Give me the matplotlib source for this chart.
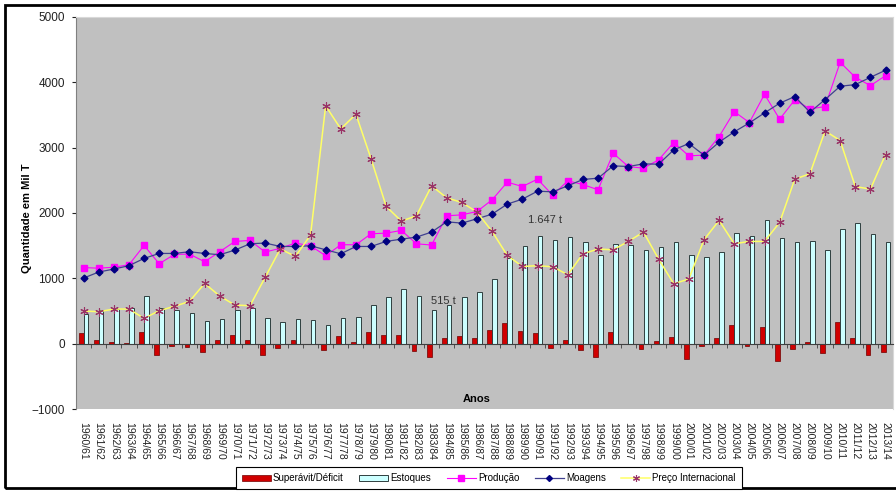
import numpy as np
import matplotlib
matplotlib.use('Agg')
import matplotlib.pyplot as plt
from matplotlib.patches import Rectangle, Patch
from matplotlib.lines import Line2D

plt.rcParams['font.family'] = ['Liberation Sans', 'DejaVu Sans']

safras = ['1960/61', '1961/62', '1962/63', '1963/64', '1964/65', '1965/66', '1966/67',
          '1967/68', '1968/69', '1969/70', '1970/71', '1971/72', '1972/73', '1973/74',
          '1974/75', '1975/76', '1976/77', '1977/78', '1978/79', '1979/80', '1980/81',
          '1981/82', '1982/83', '1983/84', '1984/85', '1985/86', '1986/87', '1987/88',
          '1988/89', '1989/90', '1990/91', '1991/92', '1992/93', '1993/94', '1994/95',
          '1995/96', '1996/97', '1997/98', '1998/99', '1999/00', '2000/01', '2001/02',
          '2002/03', '2003/04', '2004/05', '2005/06', '2006/07', '2007/08', '2008/09',
          '2009/10', '2010/11', '2011/12', '2012/13', '2013/14']

superavit = [168, 51, 26, 10, 183, -178, -41, -56, -133, 61, 133, 51, -168, -66,
             51, -10, -102, 122, 20, 179, 133, 133, -107, -204, 87, 117, 87, 209,
             321, 194, 163, -66, 56, -92, -204, 179, -10, -82, 46, 97, -229, -31,
             87, 290, -31, 255, -265, -77, 31, -143, 331, 92, -173, -122]

estoques = [459, 509, 530, 540, 723, 545, 520, 469, 341, 382, 509, 545, 393, 332,
            382, 367, 280, 393, 413, 586, 708, 836, 723, 515, 586, 708, 791, 994,
            1310, 1488, 1647, 1585, 1636, 1555, 1356, 1524, 1503, 1432, 1478, 1560,
            1350, 1325, 1401, 1692, 1647, 1891, 1616, 1549, 1565, 1427, 1754, 1845,
            1671, 1555]

producao = [1165, 1155, 1170, 1208, 1503, 1223, 1366, 1371, 1254, 1407, 1565, 1580,
            1402, 1460, 1540, 1498, 1346, 1514, 1514, 1682, 1692, 1733, 1529, 1509,
            1957, 1972, 2023, 2202, 2472, 2405, 2518, 2273, 2492, 2436, 2355, 2915,
            2711, 2686, 2813, 3078, 2875, 2885, 3170, 3552, 3384, 3817, 3436, 3731,
            3593, 3629, 4307, 4077, 3950, 4102]

moagens = [1004, 1096, 1142, 1193, 1305, 1381, 1381, 1407, 1381, 1361, 1432, 1529,
           1540, 1488, 1488, 1498, 1437, 1376, 1488, 1488, 1565, 1600, 1631, 1708,
           1865, 1845, 1911, 1983, 2136, 2212, 2334, 2324, 2416, 2513, 2533, 2722,
           2711, 2752, 2747, 2966, 3063, 2885, 3084, 3242, 3379, 3532, 3680, 3782,
           3543, 3736, 3940, 3965, 4077, 4185]

preco = [500, 489, 530, 530, 387, 505, 571, 647, 922, 729, 591, 581, 1014, 1450,
         1335, 1662, 3639, 3287, 3512, 2829, 2100, 1876, 1957, 2416, 2232, 2161,
         2014, 1717, 1350, 1182, 1193, 1177, 1055, 1376, 1448, 1437, 1565, 1708,
         1295, 917, 989, 1590, 1886, 1529, 1565, 1565, 1855, 2518, 2600, 3257,
         3109, 2405, 2365, 2895]

x = np.arange(len(safras))

fig = plt.figure(figsize=(8.96, 4.91), dpi=100)
ax = fig.add_axes([0.0848, 0.167, 0.912, 0.7984])
ax.set_facecolor('#C0C0C0')

ax.bar(x - 0.16, superavit, width=0.32, color='#D00000', edgecolor='#700000', linewidth=0.5, zorder=2)
ax.bar(x + 0.16, estoques, width=0.3, color='#CCFFFF', edgecolor='#2F3F3F', linewidth=0.7, zorder=2)
ax.plot(x, producao, color='#FF00FF', lw=0.8, marker='s', ms=5, zorder=3)
ax.plot(x, moagens, color='#404090', lw=0.9, marker='D', ms=3.5, mfc='#000080', mec='#000080', zorder=4)
ax.plot(x, preco, color='#FFFF66', lw=1.1, marker=(6, 2, 0), ms=6, mec='#993366', mew=0.8, zorder=5)

ax.set_xlim(-0.5, len(safras) - 0.5)
ax.set_ylim(-1000, 5000)
ax.set_yticks(range(-1000, 5001, 1000))
ax.tick_params(axis='y', length=3, pad=5, labelsize=8.5, colors='#222222')

# linha do zero com separadores das safras
ax.spines['bottom'].set_position(('data', 0))
ax.spines['bottom'].set_color('#404040')
ax.set_xticks([])
ax.set_xticks(np.arange(-0.5, len(safras), 1.0), minor=True)
ax.tick_params(axis='x', which='minor', direction='out', length=3, color='#404040')
ax.spines['left'].set_color('#808080')
for s in ['top', 'right']:
    ax.spines[s].set_color('#D8D8D8')

sec = ax.secondary_xaxis('bottom')
sec.set_xticks(x, safras, rotation=-90, fontsize=7.5, color='#222222')
sec.tick_params(length=0, pad=9)
sec.spines['bottom'].set_visible(False)

ax.text(23.8, 650, '515 t', fontsize=8, color='#333333', ha='center', va='center', zorder=6)
ax.text(30.5, 1900, '1.647 t', fontsize=8, color='#333333', ha='center', va='center', zorder=6)
ax.text(0.49, 0.012, 'Anos', transform=ax.transAxes, fontsize=8, fontweight='bold',
        ha='center', va='bottom')
fig.text(0.030, 0.555, 'Quantidade em Mil T', rotation=90, fontsize=8, fontweight='bold',
         ha='center', va='center')

handles = [Patch(facecolor='#D00000', edgecolor='#700000', lw=0.5),
           Patch(facecolor='#CCFFFF', edgecolor='#2F3F3F', lw=0.7),
           Line2D([], [], color='#FF00FF', lw=0.8, marker='s', ms=4),
           Line2D([], [], color='#404090', lw=0.9, marker='D', ms=3, mfc='#000080', mec='#000080'),
           Line2D([], [], color='#FFFF66', lw=1.1, marker=(6, 2, 0), ms=5, mec='#993366', mew=0.8)]
labels = ['Superávit/Déficit', 'Estoques', 'Produção', 'Moagens', 'Preço Internacional']
leg = fig.legend(handles, labels, loc='lower center', bbox_to_anchor=(0.5455, -0.006), ncol=5,
                 fontsize=7, frameon=True, fancybox=False, edgecolor='black', framealpha=1,
                 borderpad=0.6, handlelength=3.0, handleheight=0.5, handletextpad=0.2,
                 columnspacing=1.6)
leg.get_frame().set_linewidth(0.8)

fig.add_artist(Rectangle((0.0056, 0.006), 1.2, 0.9837, transform=fig.transFigure,
                         fill=False, lw=2, ec='black'))

fig.savefig('out.png', dpi=100)
